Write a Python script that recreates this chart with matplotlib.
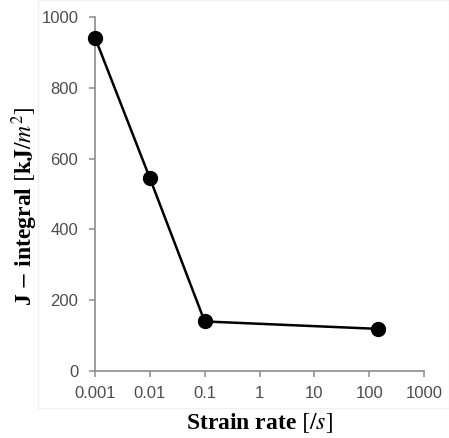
import matplotlib
matplotlib.use("Agg")
import matplotlib.pyplot as plt
from matplotlib.patches import Rectangle

strain_rate = [0.001, 0.01, 0.1, 145]
j_integral = [942, 545, 140, 119]
xticks = [0.001, 0.01, 0.1, 1, 10, 100, 1000]
xtick_labels = ["0.001", "0.01", "0.1", "1", "10", "100", "1000"]
yticks = [0, 200, 400, 600, 800, 1000]

plt.rcParams['mathtext.fontset'] = 'stix'

fig = plt.figure(figsize=(4.49, 4.38), dpi=100)
fig.patches.append(Rectangle((38/449, 1-408/438), 1-38/449, 408/438,
                             transform=fig.transFigure, facecolor='none',
                             edgecolor='#f0f0f0', lw=1))
ax = fig.add_axes([95/449, 1-371/438, (424-95)/449, (371-17)/438])

ax.plot(strain_rate, j_integral, color='black', lw=1.8, marker='o',
        markersize=10, markerfacecolor='black', clip_on=False, zorder=3)

ax.set_xscale('log')
ax.set_xlim(0.001, 1000)
ax.set_ylim(0, 1000)
ax.set_xticks(xticks)
ax.set_xticklabels(xtick_labels)
ax.minorticks_off()
ax.set_yticks(yticks)

for s in ['top', 'right']:
    ax.spines[s].set_visible(False)
for s in ['left', 'bottom']:
    ax.spines[s].set_color('#8c8c8c')
    ax.spines[s].set_linewidth(1.2)

ax.tick_params(axis='both', direction='out', length=4, width=1.1,
               color='#8c8c8c', labelcolor='#4d4d4d', labelsize=12)
ax.tick_params(axis='x', pad=7)
ax.tick_params(axis='y', pad=8)
for lab in ax.get_xticklabels() + ax.get_yticklabels():
    lab.set_fontfamily('Liberation Sans')

ax.set_xlabel(r"Strain rate $[/s]$", fontsize=17, fontweight='bold',
              family='Liberation Serif', labelpad=7)
ax.set_ylabel(r"J $-$ integral $[\mathbf{kJ}/m^2]$", fontsize=17,
              fontweight='bold', family='Liberation Serif')
ax.yaxis.set_label_coords(-0.168, 0.465)

fig.savefig("out.png", dpi=100)
